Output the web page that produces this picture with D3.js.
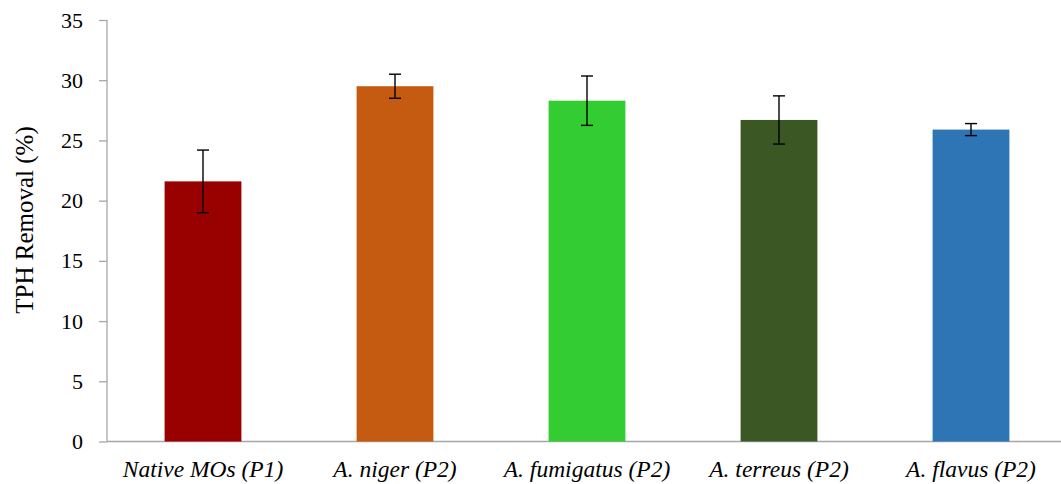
<!DOCTYPE html>
<html>
<head>
<meta charset="utf-8">
<script src="https://cdn.jsdelivr.net/npm/d3@7"></script>
<style>
  body { margin: 0; background: #fff; }
  text { font-family: "Liberation Serif", "Times New Roman", serif; fill: #000; }
</style>
</head>
<body>
<svg id="chart" width="1061" height="484"></svg>
<script>
const categories = ["Native MOs (P1)", "A. niger (P2)", "A. fumigatus (P2)", "A. terreus (P2)", "A. flavus (P2)"];
const values = [21.6, 29.5, 28.3, 26.7, 25.9];
const errors = [2.6, 1.0, 2.05, 2.0, 0.5];
const colors = ["#990000", "#C55A11", "#33CC33", "#3A5724", "#2E75B6"];
const yTicks = [0, 5, 10, 15, 20, 25, 30, 35];

const svg = d3.select("#chart");
const plotL = 107, plotR = 1067, plotT = 20, plotB = 441.5;

const x = d3.scaleBand().domain(categories).range([plotL, plotR]).padding(0);
const y = d3.scaleLinear().domain([0, 35]).range([plotB, plotT]);

const barW = x.bandwidth() * 0.4;

// y axis
const yAxis = svg.append("g")
  .attr("transform", `translate(${plotL},0)`)
  .call(d3.axisLeft(y).tickValues(yTicks).tickSize(8).tickPadding(16));
yAxis.select(".domain").attr("stroke", "#A6A6A6").attr("stroke-width", 1.3).attr("d", `M0,${plotT}V${plotB}`);
yAxis.selectAll(".tick line").attr("stroke", "#A6A6A6").attr("stroke-width", 1.3);
yAxis.selectAll(".tick text")
  .style("font-family", "Liberation Serif")
  .style("font-size", "22px")
  .attr("fill", "#000");

// x axis line
svg.append("line")
  .attr("x1", plotL).attr("x2", plotR)
  .attr("y1", plotB).attr("y2", plotB)
  .attr("stroke", "#A6A6A6").attr("stroke-width", 1.3);

// bars
svg.append("g").selectAll("rect")
  .data(categories)
  .enter()
  .append("rect")
  .attr("x", (d) => x(d) + (x.bandwidth() - barW) / 2)
  .attr("y", (d, i) => y(values[i]))
  .attr("width", barW)
  .attr("height", (d, i) => y(0) - y(values[i]))
  .attr("fill", (d, i) => colors[i]);

// error bars
const eb = svg.append("g").selectAll("g")
  .data(categories)
  .enter()
  .append("g")
  .attr("stroke", "#000")
  .attr("stroke-width", 1.4);
eb.append("line")
  .attr("x1", (d) => x(d) + x.bandwidth() / 2)
  .attr("x2", (d) => x(d) + x.bandwidth() / 2)
  .attr("y1", (d, i) => y(values[i] + errors[i]))
  .attr("y2", (d, i) => y(values[i] - errors[i]));
eb.append("line")
  .attr("x1", (d) => x(d) + x.bandwidth() / 2 - 6)
  .attr("x2", (d) => x(d) + x.bandwidth() / 2 + 6)
  .attr("y1", (d, i) => y(values[i] + errors[i]))
  .attr("y2", (d, i) => y(values[i] + errors[i]));
eb.append("line")
  .attr("x1", (d) => x(d) + x.bandwidth() / 2 - 6)
  .attr("x2", (d) => x(d) + x.bandwidth() / 2 + 6)
  .attr("y1", (d, i) => y(values[i] - errors[i]))
  .attr("y2", (d, i) => y(values[i] - errors[i]));

// category labels
svg.append("g").selectAll("text")
  .data(categories)
  .enter()
  .append("text")
  .attr("x", (d) => x(d) + x.bandwidth() / 2)
  .attr("y", plotB + 35.5)
  .attr("text-anchor", "middle")
  .style("font-size", "23.5px")
  .style("font-style", "italic")
  .text((d) => d);

// y title
svg.append("text")
  .attr("transform", "translate(33,220) rotate(-90)")
  .attr("text-anchor", "middle")
  .style("font-size", "25px")
  .text("TPH Removal (%)");
</script>
</body>
</html>
